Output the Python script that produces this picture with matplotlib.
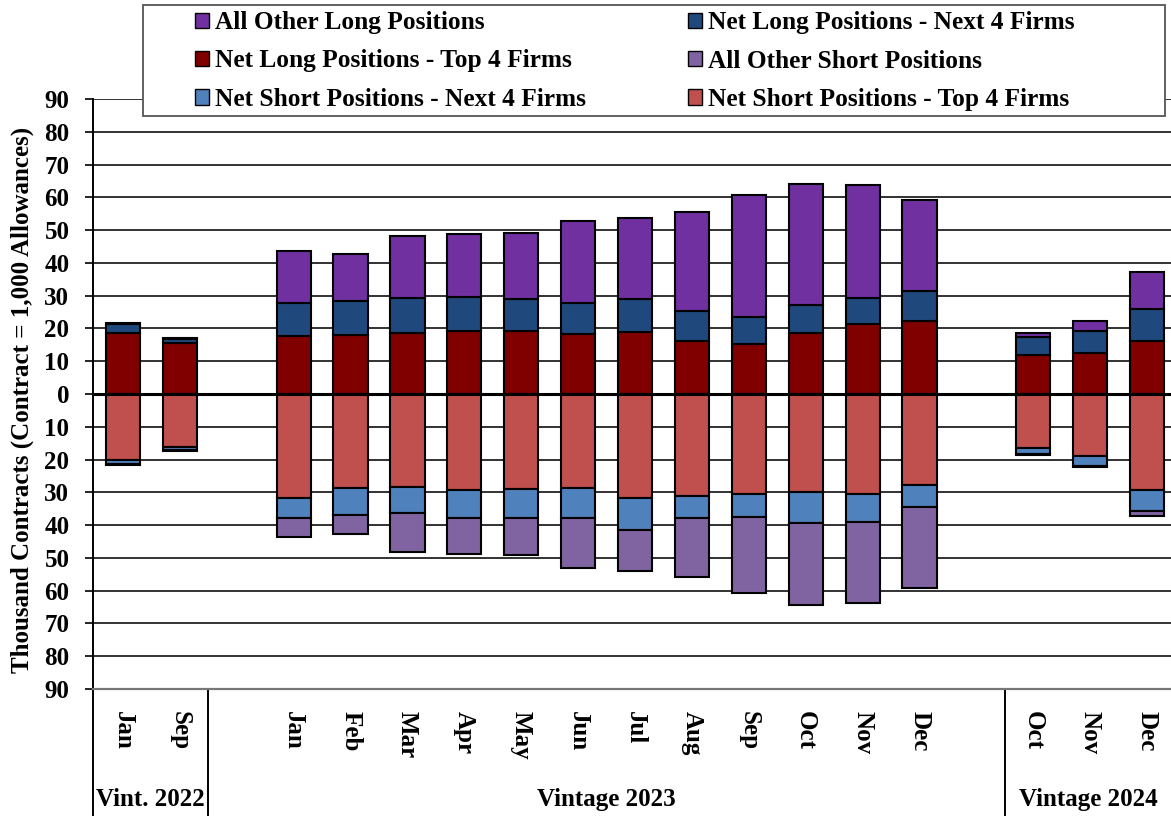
import matplotlib
matplotlib.use("Agg")
import matplotlib.pyplot as plt
from matplotlib.patches import Rectangle
from matplotlib.transforms import blended_transform_factory
import numpy as np

plt.rcParams['font.family'] = ['Liberation Serif', 'DejaVu Serif']
plt.rcParams['font.weight'] = 'bold'

# Vintage groups and the months reported in each
groups = ["Vint. 2022", "Vintage 2023", "Vintage 2024"]
group_months = [
    ["Jan", "Sep"],
    ["Jan", "Feb", "Mar", "Apr", "May", "Jun", "Jul", "Aug", "Sep", "Oct", "Nov", "Dec"],
    ["Oct", "Nov", "Dec"],
]

# Long side (thousand contracts)
long_top4 = [18.6, 15.6, 17.7, 18.1, 18.7, 19.1, 19.3, 18.4, 18.8, 16.3, 15.3, 18.6, 21.5, 22.3, 12.0, 12.6, 16.3]
long_next4 = [2.9, 1.2, 10.2, 10.4, 10.7, 10.5, 9.6, 9.3, 10.1, 8.9, 8.3, 8.5, 7.7, 9.1, 5.3, 6.5, 9.6]
long_other = [0.3, 0.3, 15.7, 14.1, 18.7, 19.2, 20.2, 25.2, 24.9, 30.4, 37.1, 37.1, 34.5, 27.9, 1.2, 3.1, 11.2]

# Short side (thousand contracts)
short_top4 = [20.2, 16.2, 31.7, 28.6, 28.3, 29.3, 29.0, 28.6, 31.6, 31.0, 30.4, 30.0, 30.6, 27.8, 16.5, 18.9, 29.2]
short_next4 = [1.2, 0.9, 6.0, 8.2, 8.0, 8.4, 8.7, 9.1, 9.9, 6.8, 7.2, 9.5, 8.4, 6.6, 1.8, 3.2, 6.5]
short_other = [0.3, 0.2, 5.9, 5.9, 11.9, 11.2, 11.5, 15.5, 12.5, 17.9, 23.1, 24.8, 24.7, 24.9, 0.2, 0.1, 1.6]

# x positions: one empty slot between vintage groups
positions, labels, bounds = [], [], []
cur = 0
for i, months in enumerate(group_months):
    start = cur
    for m in months:
        positions.append(cur)
        labels.append(m)
        cur += 1
    bounds.append((start, cur - 1))
    cur += 1
x = np.array(positions, dtype=float)

c_long_other = "#7030A0"
c_long_next4 = "#1F497D"
c_long_top4 = "#800000"
c_short_other = "#8064A2"
c_short_next4 = "#4F81BD"
c_short_top4 = "#C0504D"

fig = plt.figure(figsize=(11.71, 8.16), dpi=100)
ax = fig.add_axes([93 / 1171, 127 / 816, 1078 / 1171, 590 / 816])

lt, ln, lo = map(np.array, (long_top4, long_next4, long_other))
st, sn, so = map(np.array, (short_top4, short_next4, short_other))

bw = 0.6
kw = dict(width=bw, edgecolor="black", linewidth=1.5, zorder=3)
b_lt = ax.bar(x, lt, color=c_long_top4, **kw)
b_ln = ax.bar(x, ln, bottom=lt, color=c_long_next4, **kw)
b_lo = ax.bar(x, lo, bottom=lt + ln, color=c_long_other, **kw)
b_st = ax.bar(x, -st, color=c_short_top4, **kw)
b_sn = ax.bar(x, -sn, bottom=-st, color=c_short_next4, **kw)
b_so = ax.bar(x, -so, bottom=-st - sn, color=c_short_other, **kw)

ax.set_ylim(-90, 90)
ax.set_xlim(-0.527, 18.42)
yt = np.arange(-90, 91, 10)
ax.set_yticks(yt)
ax.set_yticklabels([str(abs(v)) for v in yt], fontsize=18, fontweight="bold")
ax.tick_params(axis="y", direction="out", length=6, width=1.2, pad=11)
for v in yt:
    if v == 0:
        ax.axhline(v, color="black", lw=2.2, zorder=4)
    elif v != -90:
        ax.axhline(v, color="#222222", lw=1.3, zorder=1)

ax.set_xticks(x)
ax.set_xticklabels(labels, rotation=270, fontsize=18, fontweight="bold", va="top", ha="center")
ax.tick_params(axis="x", length=0, pad=16)

for s in ("top", "right"):
    ax.spines[s].set_visible(False)
ax.spines["left"].set_color("black")
ax.spines["left"].set_linewidth(1.4)
ax.spines["bottom"].set_color("#777777")
ax.spines["bottom"].set_linewidth(1.6)

# group separators and names beneath the axis; the middle vintage takes in
# the empty slots on both of its sides
trans = blended_transform_factory(ax.transData, ax.transAxes)
xmin, xmax = ax.get_xlim()
ax.plot([xmin, xmin], [0, -0.22], transform=trans, color="black", lw=1.4, clip_on=False)
edges = [xmin, bounds[0][1] + 0.5, bounds[2][0] - 0.5, xmax]
for e in edges[1:-1]:
    ax.plot([e, e], [0, -0.22], transform=trans, color="black", lw=1.4, clip_on=False)
for i, g in enumerate(groups):
    ax.text((edges[i] + edges[i + 1]) / 2, -0.188, g, transform=trans, ha="center", va="center",
            fontsize=18, fontweight="bold")

fig.text(22 / 1171, 0.51, "Thousand Contracts (Contract = 1,000 Allowances)", rotation=90,
         ha="center", va="center", fontsize=18, fontweight="bold")

# legend box with two columns of entries
fig.patches.append(Rectangle((143 / 1171, 1 - 116 / 816), (1165 - 143) / 1171, 111 / 816,
                             transform=fig.transFigure, facecolor="white", edgecolor="#555555",
                             lw=1.3, zorder=3))
leg_kw = dict(loc="center left", frameon=False, borderpad=0, borderaxespad=0,
              handlelength=0.56, handleheight=0.56, handletextpad=0.22, labelspacing=0.6,
              prop={"weight": "bold", "size": 18.3})
l1 = fig.legend([b_lo, b_lt, b_sn],
                ["All Other Long Positions", "Net Long Positions - Top 4 Firms",
                 "Net Short Positions - Next 4 Firms"],
                bbox_to_anchor=(195 / 1171, 1 - 61 / 816), **leg_kw)
l2 = fig.legend([b_ln, b_so, b_st],
                ["Net Long Positions - Next 4 Firms", "All Other Short Positions",
                 "Net Short Positions - Top 4 Firms"],
                bbox_to_anchor=(688 / 1171, 1 - 61 / 816), **leg_kw)
for l in (l1, l2):
    l.set_zorder(5)
    for p in l.get_patches():
        p.set_linewidth(1.0)

fig.savefig("out.png", dpi=100)
